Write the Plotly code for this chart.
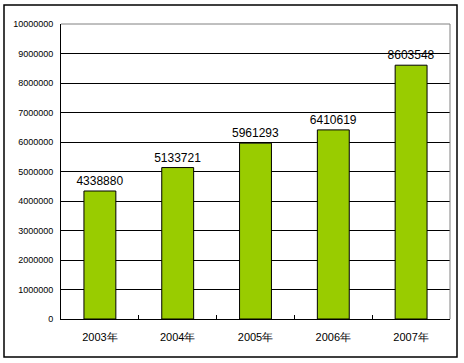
import plotly.graph_objects as go

categories = ["2003年", "2004年", "2005年", "2006年", "2007年"]
values = [4338880, 5133721, 5961293, 6410619, 8603548]
y_ticks = [0, 1000000, 2000000, 3000000, 4000000, 5000000, 6000000, 7000000, 8000000, 9000000, 10000000]

W, H = 464, 363
L, R, T, B = 61, 450, 24, 319
pw, ph = R - L, B - T

def px(x):
    return (x - L) / pw

def py(y):
    return (B - y) / ph

fig = go.Figure(go.Bar(
    x=categories, y=values,
    marker=dict(color="#99CC00", line=dict(color="black", width=1)),
    width=0.41,
    text=[str(v) for v in values], textposition="outside",
    constraintext="none",
    textfont=dict(family="Liberation Sans", size=12, color="black"),
    cliponaxis=False,
))

fig.update_layout(
    width=W, height=H,
    margin=dict(l=L, r=W - R, t=T, b=H - B, pad=0, autoexpand=False),
    paper_bgcolor="white", plot_bgcolor="white",
    showlegend=False,
    xaxis=dict(
        type="category", showgrid=False, showline=True, linecolor="black", linewidth=1,
        ticks="inside", tickson="boundaries", ticklen=4, tickcolor="black",
        tickfont=dict(family="Liberation Sans", size=11, color="black"),
        ticklabelstandoff=8, automargin=False,
    ),
    yaxis=dict(
        range=[0, 10000000], tickvals=y_ticks, ticktext=[str(v) for v in y_ticks],
        showgrid=True, gridcolor="black", gridwidth=1,
        showline=True, linecolor="black", linewidth=1, zeroline=False,
        tickfont=dict(family="Liberation Sans", size=9, color="black"),
        ticklabelstandoff=5, automargin=False,
    ),
    shapes=[
        dict(type="line", xref="paper", yref="paper", x0=0, x1=1, y0=1, y1=1,
             line=dict(color="#808080", width=1), layer="above"),
        dict(type="line", xref="paper", yref="paper", x0=1, x1=1, y0=0, y1=1,
             line=dict(color="#808080", width=1), layer="above"),
        dict(type="rect", xref="paper", yref="paper",
             x0=px(4), x1=px(457), y0=py(357), y1=py(5),
             line=dict(color="black", width=1.5), layer="below"),
    ],
)

fig.write_html(
    "out.html",
    config={"displayModeBar": False},
    post_script="document.body.style.margin='0';document.body.style.overflow='hidden';",
)
